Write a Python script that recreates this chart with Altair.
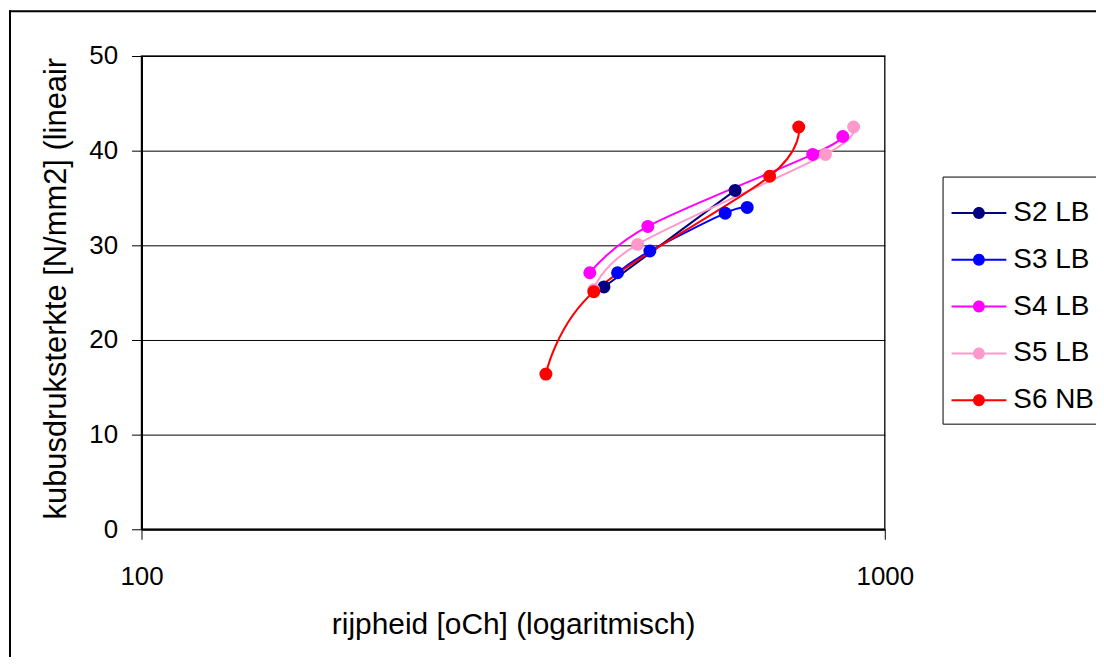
import altair as alt
import pandas as pd

# ---- data ----
series_names = ["S2 LB", "S3 LB", "S4 LB", "S5 LB", "S6 NB"]
series_colors = ["#000080", "#0000FF", "#FF00FF", "#FF99CC", "#FF0000"]

s2_x = [419, 629]
s2_y = [25.6, 35.8]
s3_x = [437, 483, 610, 653]
s3_y = [27.1, 29.4, 33.4, 34.0]
s4_x = [401, 480, 800, 878]
s4_y = [27.1, 32.0, 39.6, 41.5]
s5_x = [406, 465, 832, 908]
s5_y = [25.3, 30.1, 39.6, 42.5]
s6_x = [350, 406, 700, 766]
s6_y = [16.4, 25.1, 37.3, 42.5]

x_ticks = [100, 1000]
y_ticks = [0, 10, 20, 30, 40, 50]

rows = []
for name, xs, ys in zip(series_names,
                        [s2_x, s3_x, s4_x, s5_x, s6_x],
                        [s2_y, s3_y, s4_y, s5_y, s6_y]):
    for i, (xv, yv) in enumerate(zip(xs, ys)):
        rows.append({"series": name, "x": xv, "y": yv, "i": i})
df = pd.DataFrame(rows)

FONT = "Liberation Sans"

x_enc = alt.X(
    "x:Q",
    scale=alt.Scale(type="log", domain=[100, 1000]),
    axis=alt.Axis(
        values=x_ticks, format="d", grid=False, labelFlush=False,
        tickSize=10, tickColor="black", tickWidth=1,
        domainColor="black", domainWidth=2,
        labelFont=FONT, labelFontSize=26, labelColor="black", labelPadding=24,
        title="rijpheid [oCh] (logaritmisch)",
        titleFont=FONT, titleFontSize=30, titleFontWeight="normal", titleColor="black",
        titleY=105, titleBaseline="alphabetic",
    ),
)
y_enc = alt.Y(
    "y:Q",
    scale=alt.Scale(domain=[0, 50]),
    axis=alt.Axis(
        values=y_ticks, grid=True, gridColor="black", gridWidth=1,
        tickSize=10, tickColor="black", tickWidth=1,
        domainColor="black", domainWidth=2,
        labelFont=FONT, labelFontSize=26, labelColor="black", labelPadding=14,
        title="kubusdruksterkte [N/mm2] (lineair",
        titleFont=FONT, titleFontSize=31, titleFontWeight="normal", titleColor="black",
        titleX=-76, titleY=233, titleBaseline="alphabetic",
    ),
)

legend_symbol = (
    "M-1,-0.036L-0.217,-0.036L-0.217,0.036L-1,0.036Z"
    "M0.217,-0.036L1,-0.036L1,0.036L0.217,0.036Z"
    "M-0.218,0A0.218,0.218,0,1,1,0.218,0A0.218,0.218,0,1,1,-0.218,0Z"
)

legend = alt.Legend(
    orient="none", legendX=804, legendY=121, title=None,
    symbolType=legend_symbol, symbolSize=3025, symbolStrokeWidth=0,
    symbolOpacity=1,
    labelFont=FONT, labelFontSize=28, labelColor="black", labelOffset=7,
    strokeColor="black", fillColor="white", padding=9, rowPadding=5,
)
color_scale = alt.Scale(domain=series_names, range=series_colors)

base = alt.Chart(df)

lines = base.mark_line(interpolate="cardinal", strokeWidth=2).encode(
    x=x_enc, y=y_enc,
    color=alt.Color("series:N", scale=color_scale, legend=legend),
    detail="series:N",
    order="i:Q",
)

points = base.mark_point(filled=True, size=170, opacity=1).encode(
    x=x_enc, y=y_enc,
    color=alt.Color("series:N", scale=color_scale, legend=legend),
)

frame_src = alt.Chart(pd.DataFrame({"a": [0]}))
frame_top = frame_src.mark_rule(stroke="black", strokeWidth=2).encode(
    x=alt.value(-133), x2=alt.value(1100), y=alt.value(-45)
)
frame_left = frame_src.mark_rule(stroke="black", strokeWidth=2).encode(
    x=alt.value(-132), y=alt.value(-46), y2=alt.value(700)
)

chart = alt.layer(frame_top, frame_left, lines, points).properties(
    width=746, height=475,
    autosize=alt.AutoSizeParams(type="none"),
    padding={"left": 134, "top": 47, "right": 212, "bottom": 127},
    background="white",
).configure_view(stroke="#222222", strokeWidth=1.5)

chart.save("out.html", embed_options={"renderer": "svg", "actions": False})
